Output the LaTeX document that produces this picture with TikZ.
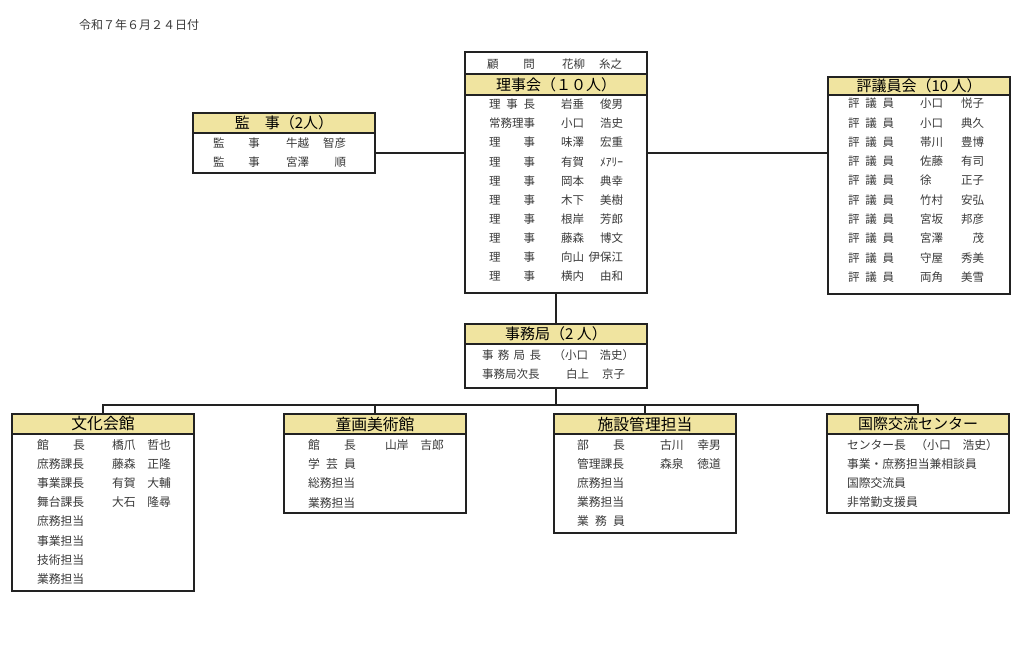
\documentclass[tikz,border=0pt]{standalone}
\usepackage{fontspec}
\setmainfont{Noto Sans CJK JP}
\usetikzlibrary{backgrounds}
\definecolor{hdr}{RGB}{240,228,160}
\definecolor{ln}{RGB}{34,34,34}
\definecolor{tx}{RGB}{58,58,58}
\newcommand\hdfont{\fontsize{15}{15}\selectfont}
\newcommand\hdbfont{\fontsize{15.8}{16}\selectfont}
\newcommand\smfont{\fontsize{11.5}{12}\selectfont}
\newcommand\bgfont{\fontsize{11.8}{12}\selectfont}
\newcommand\dlab[2]{\makebox[#1pt][s]{#2}}
\begin{document}
\begin{tikzpicture}[x=1pt,y=-1pt,
  box/.style={draw=ln, line width=1.6pt, anchor=north west, inner sep=0pt, outer sep=0pt, minimum width=182pt},
  hbar/.style={fill=hdr, anchor=north west, inner sep=0pt, outer sep=0pt, minimum width=182pt, minimum height=20pt, font=\hdfont, text=black},
  hbarb/.style={hbar, font=\hdbfont},
  sepl/.style={draw=ln, line width=1.2pt},
  conn/.style={draw=ln, line width=1.5pt},
  tl/.style={anchor=west, inner sep=0pt, outer sep=0pt, font=\smfont, text=tx, text height=9pt, text depth=1.5pt},
  tr/.style={tl, anchor=east},
  bl/.style={tl, font=\bgfont},
  br/.style={bl, anchor=east}]
\useasboundingbox (0,0) rectangle (1024,651);

\node[anchor=west, inner sep=0pt, font=\fontsize{12}{12}\selectfont, text=tx] (date) at (79,25) {令和７年６月２４日付};

% boxes
\node[box, minimum height=60pt] (kanji) at (193,113) {};
\node[box, minimum height=241pt] (riji) at (465,52) {};
\node[box, minimum height=217pt] (hyogi) at (828,77) {};
\node[box, minimum height=64pt] (jimu) at (465,324) {};
\node[box, minimum height=177pt] (bunka) at (12,414) {};
\node[box, minimum height=99pt] (doga) at (284,414) {};
\node[box, minimum height=119pt] (shisetsu) at (554,414) {};
\node[box, minimum height=99pt] (kokusai) at (827,414) {};

% headers
\begin{scope}[on background layer]
\fill[white] (0,0) rectangle (1024,651);
\node[hbar] (kanjiH) at (kanji.north west) {監　事（2人）};
\node[hbar, minimum height=21pt] (rijiH) at ([yshift=-22pt]riji.north west) {理事会（１０人）};
\node[hbar, minimum height=18pt] (hyogiH) at (hyogi.north west) {評議員会（10 人）};
\node[hbar] (jimuH) at (jimu.north west) {事務局（2 人）};
\node[hbarb] (bunkaH) at (bunka.north west) {文化会館};
\node[hbarb] (dogaH) at (doga.north west) {童画美術館};
\node[hbarb] (shisetsuH) at (shisetsu.north west) {施設管理担当};
\node[hbar] (kokusaiH) at (kokusai.north west) {国際交流センター};
\end{scope}
\foreach \h in {kanjiH,rijiH,hyogiH,jimuH,bunkaH,dogaH,shisetsuH,kokusaiH}
  \draw[sepl] (\h.south west) -- (\h.south east);
\draw[sepl] (rijiH.north west) -- (rijiH.north east);

% connectors
\coordinate (ylev) at (0,153);
\coordinate (bus) at (0,405);
\draw[conn] (kanji.east |- ylev) -- (riji.west |- ylev);
\draw[conn] (riji.east |- ylev) -- (hyogi.west |- ylev);
\draw[conn] (riji.south) -- (jimu.north);
\draw[conn] (jimu.south) -- (jimu.south |- bus);
\draw[conn] (bunka.north) -- (bunka.north |- bus) -- (kokusai.north |- bus) -- (kokusai.north);
\draw[conn] (doga.north) -- (doga.north |- bus);
\draw[conn] (shisetsu.north) -- (shisetsu.north |- bus);

% 監事
\foreach \s/\g [count=\i from 0] in {牛越/智彦, 宮澤/順} {
  \node[tl] (ka-\i-l) at (213,144+19*\i) {\dlab{47}{監\hfill 事}};
  \node[tl] (ka-\i-s) at (286,144+19*\i) {\s};
  \node[tr] (ka-\i-g) at (346,144+19*\i) {\g};
}

% 理事会
\node[tl] (ko-l) at (487,65) {\dlab{48}{顧\hfill 問}};
\node[tl] (ko-s) at (562,65) {花柳};
\node[tr] (ko-g) at (622,65) {糸之};
\foreach \l/\s/\g [count=\i from 0] in {{理\hfill 事\hfill 長}/岩垂/俊男, {常務理事}/小口/浩史, {理\hfill 事}/味澤/宏重, {理\hfill 事}/有賀/ﾒｱﾘｰ, {理\hfill 事}/岡本/典幸, {理\hfill 事}/木下/美樹, {理\hfill 事}/根岸/芳郎, {理\hfill 事}/藤森/博文, {理\hfill 事}/向山/伊保江, {理\hfill 事}/横内/由和} {
  \node[tl] (rj-\i-l) at (489,105+19.1*\i) {\dlab{46}{\l}};
  \node[tl] (rj-\i-s) at (561,105+19.1*\i) {\s};
  \node[tr] (rj-\i-g) at (623,105+19.1*\i) {\g};
}

% 評議員会
\foreach \s/\g [count=\i from 0] in {小口/悦子, 小口/典久, 帯川/豊博, 佐藤/有司, 徐/正子, 竹村/安弘, 宮坂/邦彦, 宮澤/茂, 守屋/秀美, 両角/美雪} {
  \node[tl] (hy-\i-l) at (848,104+19.3*\i) {\dlab{46}{評\hfill 議\hfill 員}};
  \node[tl] (hy-\i-s) at (920,104+19.3*\i) {\s};
  \node[tr] (hy-\i-g) at (984,104+19.3*\i) {\g};
}

% 事務局
\node[tl] (jm-0-l) at (482,356) {\dlab{59}{事\hfill 務\hfill 局\hfill 長}};
\node[tr] (jm-0-r) at (634,356) {（小口　浩史）};
\node[tl] (jm-1-l) at (482,375) {事務局次長};
\node[tl] (jm-1-s) at (566,375) {白上};
\node[tr] (jm-1-g) at (625,375) {京子};

% 文化会館
\foreach \l/\s/\g [count=\i from 0] in {{館\hfill 長}/橋爪/哲也, {庶務課長}/藤森/正隆, {事業課長}/有賀/大輔, {舞台課長}/大石/隆尋, {庶務担当}//, {事業担当}//, {技術担当}//, {業務担当}//} {
  \node[bl] (bk-\i-l) at (37,446+19.05*\i) {\dlab{48}{\l}};
  \node[bl] (bk-\i-s) at (112,446+19.05*\i) {\s};
  \node[br] (bk-\i-g) at (171,446+19.05*\i) {\g};
}

% 童画美術館
\foreach \l/\s/\g [count=\i from 0] in {{館\hfill 長}/山岸/吉郎, {学\hfill 芸\hfill 員}//, {総務担当}//, {業務担当}//} {
  \node[bl] (dg-\i-l) at (308,446+19.1*\i) {\dlab{48}{\l}};
  \node[bl] (dg-\i-s) at (385,446+19.1*\i) {\s};
  \node[br] (dg-\i-g) at (444,446+19.1*\i) {\g};
}

% 施設管理担当
\foreach \l/\s/\g [count=\i from 0] in {{部\hfill 長}/古川/幸男, {管理課長}/森泉/徳道, {庶務担当}//, {業務担当}//, {業\hfill 務\hfill 員}//} {
  \node[bl] (ss-\i-l) at (577,446+19*\i) {\dlab{48}{\l}};
  \node[bl] (ss-\i-s) at (660,446+19*\i) {\s};
  \node[br] (ss-\i-g) at (721,446+19*\i) {\g};
}

% 国際交流センター
\foreach \l [count=\i from 0] in {センター長, 事業・庶務担当兼相談員, 国際交流員, 非常勤支援員} {
  \node[bl] (kk-\i-l) at (847,446+19*\i) {\l};
}
\node[br] (kk-0-r) at (998,446) {（小口　浩史）};
\end{tikzpicture}
\end{document}
